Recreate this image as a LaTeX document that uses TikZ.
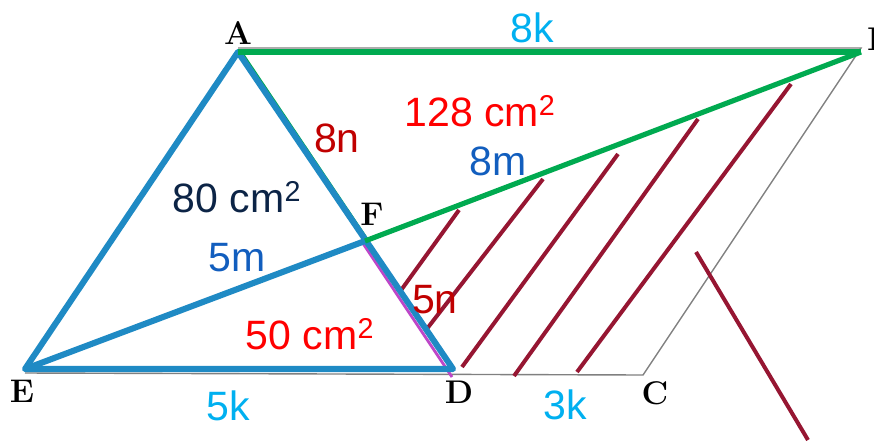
\documentclass[tikz,border=0pt]{standalone}
\usepackage{fontspec}
\newfontfamily\arial{Liberation Sans}
\usetikzlibrary{calc}

\definecolor{triblue}{RGB}{31,138,196}
\definecolor{grn}{RGB}{0,170,80}
\definecolor{hatchred}{RGB}{150,22,50}
\definecolor{mag}{RGB}{190,70,200}
\definecolor{cyanlbl}{RGB}{0,176,240}
\definecolor{bluelbl}{RGB}{18,94,190}
\definecolor{darkred}{RGB}{192,0,0}
\definecolor{navy}{RGB}{12,36,70}

\begin{document}
\begin{tikzpicture}[x=0.03cm, y=-0.03cm,
    guide/.style={draw=gray, line width=1.2pt},
    blueside/.style={draw=triblue, line width=5.2pt, line join=round},
    greenside/.style={draw=grn, line width=4.4pt},
    hatch/.style={draw=hatchred, line width=3.4pt},
    vertex/.style={font=\fontsize{28}{28}\selectfont\bfseries, inner sep=0pt},
    val/.style={font=\arial\fontsize{35}{35}\selectfont, inner sep=0pt}]

  \useasboundingbox (0,0) rectangle (874,442);

  \coordinate (A) at (238,52);
  \coordinate (B) at (861,52);
  \coordinate (C) at (643,375);
  \coordinate (D) at (453,369);
  \coordinate (E) at (25,369);
  \coordinate (F) at (365,241);

  % thin outline
  \draw[guide] ($(A)+(0,-4)$) -- ($(B)+(0,-4)$) -- (C) -- ($(E)+(0,4)$);
  \draw[guide] ($(A)+(2,0)$) -- ($(D)+(2,0)$);

  % hatching
  \foreach \x/\y/\u/\v in {399/293/459/210, 426/330/543/179, 462/367/618/154,
      514/376/698/119, 577/372/791/84}
    \draw[hatch] (\x,\y) -- (\u,\v);
  \draw[hatch] (696,252) -- (808,440);

  \draw[mag, line width=2.4pt] ($(F)+(-2.5,1.7)$) -- ($(D)+(-1,8)$);
  \draw[mag, line width=2pt] ($(E)+(0,2)$) -- ($(D)+(0,2)$);
  \draw[grn, line width=2pt] ($(A)+(2.5,-1.5)$) -- ($(F)+(2.5,-1.5)$);

  \draw[blueside] (A) -- (E) -- (D) -- cycle;
  \draw[blueside] (E) -- (F);
  \draw[greenside] (F) -- (B);
  \draw[greenside] (A) -- (B);

  \node[vertex] (lA) at (238,33) {A};
  \node[vertex, anchor=west] (lB) at (867,39) {B};
  \node[vertex] (lE) at (22,391) {E};
  \node[vertex] (lF) at (372,214) {F};
  \node[vertex] (lD) at (459,392) {D};
  \node[vertex] (lC) at (655,393) {C};

  \node[val, text=cyanlbl] (k8) at (532,28) {8k};
  \node[val, text=red] (sABF) at (480,111) {128 cm\textsuperscript{2}};
  \node[val, text=bluelbl] (m8) at (498,161) {8m};
  \node[val, text=darkred] (n8) at (337,138) {8n};
  \node[val, text=navy] (sAEF) at (237,197) {80 cm\textsuperscript{2}};
  \node[val, text=bluelbl] (m5) at (237,258) {5m};
  \node[val, text=darkred] (n5) at (435,300) {5n};
  \node[val, text=red] (sEFD) at (310,334) {50 cm\textsuperscript{2}};
  \node[val, text=cyanlbl] (k5) at (228,406) {5k};
  \node[val, text=cyanlbl] (k3) at (565,405) {3k};
\end{tikzpicture}
\end{document}
